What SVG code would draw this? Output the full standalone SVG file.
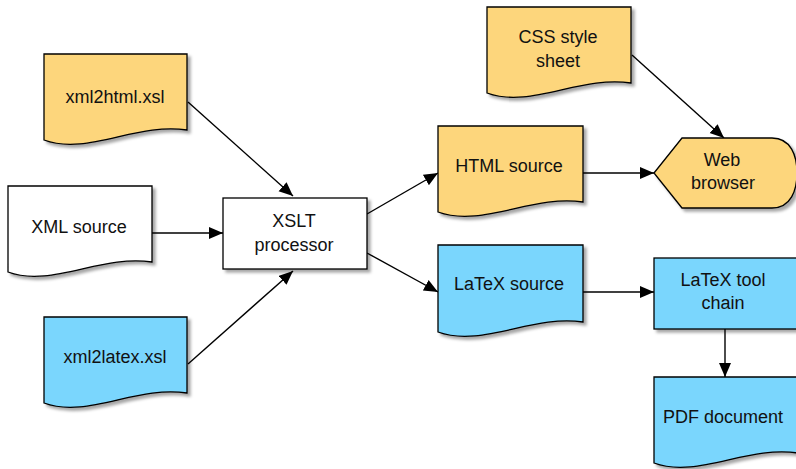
<svg xmlns="http://www.w3.org/2000/svg" width="796" height="469" viewBox="0 0 796 469">
  <defs>
    <filter id="shadow" x="-10%" y="-10%" width="130%" height="130%">
      <feDropShadow dx="3" dy="3" stdDeviation="1.8" flood-color="#000" flood-opacity="0.35"/>
    </filter>
    <marker id="arrow" markerUnits="userSpaceOnUse" markerWidth="16" markerHeight="14" refX="14" refY="6" orient="auto">
      <path d="M0,0 L14,6 L0,12 Z" fill="#000"/>
    </marker>
  </defs>
  <style>
    .shape { stroke: #000; stroke-width: 1.3; filter: url(#shadow); }
    .orange { fill: #FDD67C; }
    .blue { fill: #7AD6FD; }
    .white { fill: #FFFFFF; }
    .label { font-family: "Liberation Sans", Arial, sans-serif; font-size: 18px; fill: #111; text-anchor: middle; }
    .edge { stroke: #000; stroke-width: 1.4; fill: none; marker-end: url(#arrow); }
  </style>

  <rect width="796" height="469" fill="#FFFFFF"/>

  <!-- connectors -->
  <g id="connectors">
    <line class="edge" x1="188" y1="102" x2="293" y2="196"/>
    <line class="edge" x1="152" y1="233" x2="223" y2="233"/>
    <line class="edge" x1="188" y1="364" x2="293" y2="271"/>
    <line class="edge" x1="367" y1="214" x2="438" y2="173"/>
    <line class="edge" x1="367" y1="253" x2="438" y2="292"/>
    <line class="edge" x1="583" y1="173" x2="654" y2="173"/>
    <line class="edge" x1="632" y1="55" x2="724" y2="138"/>
    <line class="edge" x1="583" y1="292" x2="654" y2="292"/>
    <line class="edge" x1="725" y1="329" x2="725" y2="377"/>
  </g>

  <!-- document: xml2html.xsl -->
  <g id="xml2html">
    <path class="shape orange" d="M44,54 H187 V130 C137,122 87,156 44,140 Z"/>
    <text class="label" x="115" y="103">xml2html.xsl</text>
  </g>

  <!-- document: XML source -->
  <g id="xml-source">
    <path class="shape white" d="M8,186 H152 V262 C102,254 51,288 8,272 Z"/>
    <text class="label" x="79" y="233">XML source</text>
  </g>

  <!-- document: xml2latex.xsl -->
  <g id="xml2latex">
    <path class="shape blue" d="M44,317 H187 V393 C137,385 87,419 44,403 Z"/>
    <text class="label" x="115" y="363">xml2latex.xsl</text>
  </g>

  <!-- process: XSLT processor -->
  <g id="xslt">
    <rect class="shape white" x="223" y="198" width="144" height="71"/>
    <text class="label" x="294" y="227">XSLT</text>
    <text class="label" x="294" y="251">processor</text>
  </g>

  <!-- document: CSS style sheet -->
  <g id="css">
    <path class="shape orange" d="M487,7 H631 V83 C581,75 530,109 487,93 Z"/>
    <text class="label" x="558" y="43">CSS style</text>
    <text class="label" x="558" y="67">sheet</text>
  </g>

  <!-- document: HTML source -->
  <g id="html-source">
    <path class="shape orange" d="M438,126 H583 V202 C533,194 482,228 438,212 Z"/>
    <text class="label" x="509" y="172">HTML source</text>
  </g>

  <!-- display: Web browser -->
  <g id="web-browser">
    <path class="shape orange" d="M654,173 L682,138 H772 C791,138 797,156 797,173 C797,190 791,208 772,208 H682 Z"/>
    <text class="label" x="722" y="166">Web</text>
    <text class="label" x="723" y="189">browser</text>
  </g>

  <!-- document: LaTeX source -->
  <g id="latex-source">
    <path class="shape blue" d="M438,245 H583 V322 C533,314 482,348 438,332 Z"/>
    <text class="label" x="509" y="290">LaTeX source</text>
  </g>

  <!-- process: LaTeX tool chain -->
  <g id="latex-toolchain">
    <rect class="shape blue" x="654" y="258" width="144" height="71"/>
    <text class="label" x="723" y="286">LaTeX tool</text>
    <text class="label" x="723" y="309">chain</text>
  </g>

  <!-- document: PDF document -->
  <g id="pdf">
    <path class="shape blue" d="M654,377 H798 V453 C748,445 697,479 654,463 Z"/>
    <text class="label" x="723" y="423">PDF document</text>
  </g>
</svg>
